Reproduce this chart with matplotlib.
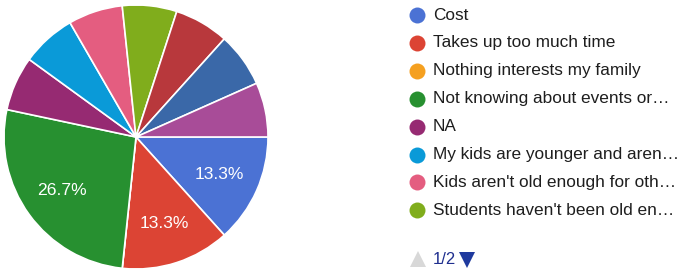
import matplotlib
matplotlib.use("Agg")
import matplotlib.pyplot as plt
from matplotlib.lines import Line2D

plt.rcParams['font.family'] = ['Liberation Sans', 'DejaVu Sans']

# Data (15 responses); page 1 of legend shows first 8 categories
categories = ["Cost", "Takes up too much time", "Nothing interests my family",
              "Not knowing about events or…", "NA", "My kids are younger and aren…",
              "Kids aren't old enough for oth…", "Students haven't been old en…",
              "Other (page 2) A", "Other (page 2) B", "Other (page 2) C"]
counts = [2, 2, 0, 4, 1, 1, 1, 1, 1, 1, 1]
colors = ["#4b72d4", "#dc4434", "#f5a020", "#279030", "#962a72", "#0a9ad8",
          "#e45d80", "#80ad1c", "#b8383c", "#3a68a8", "#a84c98"]
legend_count = 8
page_text = "1/2"

fig = plt.figure(figsize=(6.78, 2.74), dpi=100)
ax = fig.add_axes([4/678, 5/274, 264/678, 264/274])

def pct_fmt(p):
    return f"{p:.1f}%" if p >= 10 else ""

wedges, texts, autotexts = ax.pie(counts, colors=colors, startangle=0, counterclock=False,
                                  autopct=pct_fmt, pctdistance=0.69,
                                  wedgeprops=dict(edgecolor="white", linewidth=1.2),
                                  textprops=dict(color="white", fontsize=12.6))
ax.set_xlim(-1.0, 1.0)
ax.set_ylim(-1.0, 1.0)
ax.set_aspect("equal")

# Legend (manual, Google Forms style)
for i in range(legend_count):
    y = 1 - (15 + 27.9 * i) / 274
    fig.add_artist(Line2D([417/678], [y], marker="o", markersize=11.5, color=colors[i],
                          markeredgewidth=0, transform=fig.transFigure))
    fig.text(433/678, y, categories[i], fontsize=12.4, color="#1e1e1e", va="center", ha="left")

# Pagination
yp = 1 - 260/274
fig.add_artist(Line2D([418/678], [yp + 1/274], marker="^", markersize=11, color="#d8d8d8",
                      markeredgewidth=0, transform=fig.transFigure))
fig.text(433/678, yp, page_text, fontsize=12, color="#1f2f8f", va="center", ha="left")
fig.add_artist(Line2D([467/678], [yp], marker="v", markersize=11, color="#1f3a9e",
                      markeredgewidth=0, transform=fig.transFigure))

fig.savefig("out.png", dpi=100, facecolor="white")
